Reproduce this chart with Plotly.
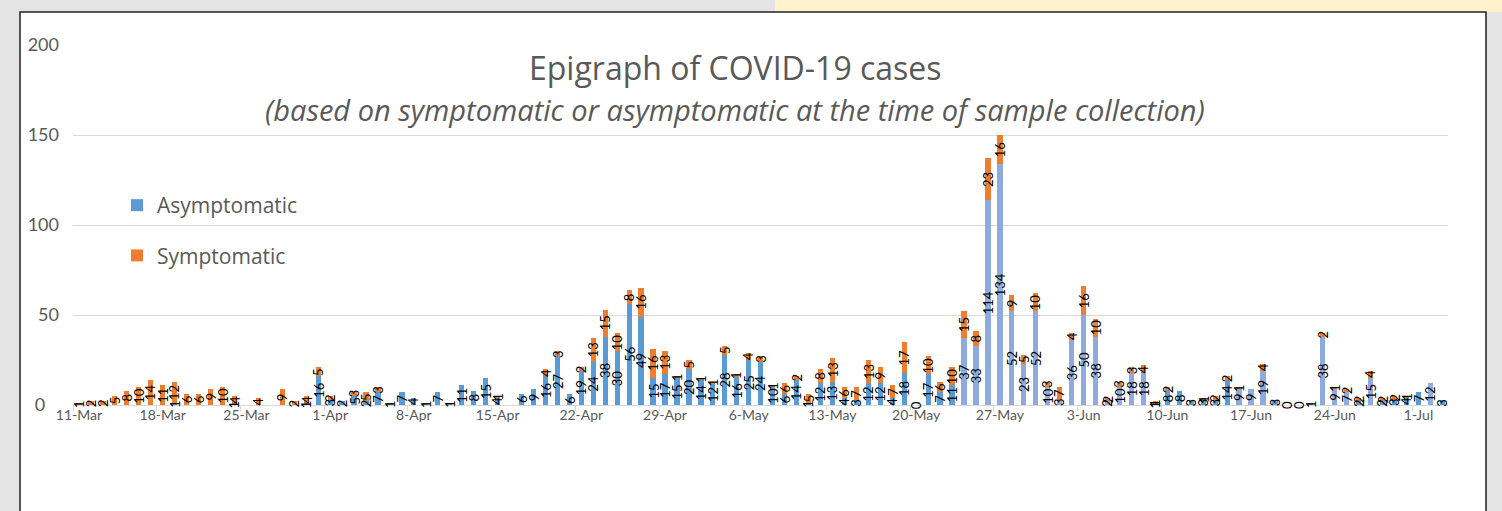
import pandas as pd
import plotly.graph_objects as go

# ---------------- data ----------------
start_date = "2020-03-11"
n_days = 115
asymptomatic = [
    None, None, None, None, None, None, None, None, 1, None,      # 11-Mar .. 20-Mar
    None, None, None, 1, None, None, None, None, None, 1,         # 21-Mar .. 30-Mar
    16, 3, 2, 5, 2, 7, 1, 7, 4, 1,                                # 31-Mar .. 9-Apr
    7, 1, 11, 8, 15, 4, None, 6, 9, 16,                           # 10-Apr .. 19-Apr
    27, 6, 19, 24, 38, 30, 56, 49, 15, 17,                        # 20-Apr .. 29-Apr
    15, 20, 14, 12, 28, 16, 25, 24, 10, 6,                        # 30-Apr .. 9-May
    14, 1, 12, 13, 4, 3, 12, 12, 4, 18,                           # 10-May .. 19-May
    0, 17, 7, 11, 37, 33, 114, 134, 52, 23,                       # 20-May .. 29-May
    52, 10, 3, 36, 50, 38, 2, 10, 18, 18,                         # 30-May .. 8-Jun
    1, 8, 8, 3, 3, 3, 14, 9, 9, 19,                               # 9-Jun .. 18-Jun
    3, 0, 0, 1, 38, 9, 7, 2, 15, 2,                               # 19-Jun .. 28-Jun
    3, 4, 7, 12, 3,                                               # 29-Jun .. 3-Jul
]
symptomatic = [
    1, 2, 2, 5, 8, 10, 14, 11, 12, 6,
    6, 9, 10, 4, None, 4, None, 9, 2, 4,
    5, 2, None, 3, 5, 3, None, None, None, None,
    None, None, None, None, None, 1, None, None, None, 4,
    3, None, 2, 13, 15, 10, 8, 16, 16, 13,
    1, 5, 1, 1, 5, 1, 4, 3, 1, 6,
    2, 5, 8, 13, 6, 7, 13, 9, 7, 17,
    None, 10, 6, 10, 15, 8, 23, 16, 9, 5,
    10, 3, 7, 4, 16, 10, 2, 3, 3, 4,
    1, 2, None, None, 1, 2, 2, 1, None, 4,
    None, None, None, None, 2, 1, 2, 2, 4, 2,
    2, 1, None, None, None,
]
tick_labels = ["11-Mar", "18-Mar", "25-Mar", "1-Apr", "8-Apr", "15-Apr", "22-Apr",
               "29-Apr", "6-May", "13-May", "20-May", "27-May", "3-Jun", "10-Jun",
               "17-Jun", "24-Jun", "1-Jul"]
y_tick_values = [0, 50, 100, 150, 200]
y_tick_labels = ["0\u00a0\u00a0\u00a0", "50", "100", "150", "200"]
light_blue_days = [74, 75, 76, 77, 78, 79, 80, 81, 82, 83, 84, 85, 86, 87, 88, 89,
                   97, 98, 99, 104, 105, 106, 108, 113]

# ---------------- styling ----------------
BLUE = "#5B9BD5"
LIGHT_BLUE = "#8FAADC"
ORANGE = "#ED7D31"
GREY_TXT = "#595959"
FONT = "Lato"
FONT2 = "Open Sans"

dates = pd.date_range(start_date, periods=n_days)
idx = list(range(n_days))
asym_y = [v if v is not None else 0 for v in asymptomatic]
sym_y = [v if v is not None else 0 for v in symptomatic]
asym_colors = [LIGHT_BLUE if i in light_blue_days else BLUE for i in idx]

fig = go.Figure()
fig.add_trace(go.Bar(x=idx, y=asym_y, name="Asymptomatic", marker_color=asym_colors,
                     marker_line_width=0, legendgroup="a",
                     customdata=[d.strftime("%d-%b") for d in dates]))
fig.add_trace(go.Bar(x=idx, y=sym_y, name="Symptomatic", marker_color=ORANGE,
                     marker_line_width=0, legendgroup="s"))

# data labels (centered in each segment, rotated)
annotations = []
for i in idx:
    a = asymptomatic[i]
    s = symptomatic[i]
    if a is not None:
        annotations.append(dict(x=i, y=a / 2, xref="x", yref="y", text=str(a),
                                showarrow=False, textangle=-90,
                                font=dict(family=FONT, size=13, color="#000000")))
    if s is not None:
        base = a if a is not None else 0
        annotations.append(dict(x=i, y=base + s / 2, xref="x", yref="y", text=str(s),
                                showarrow=False, textangle=-90,
                                font=dict(family=FONT, size=13, color="#000000")))

# pixel helpers for layout decorations
L, R, T, B = 73, 1448, 45, 405
def px(xp):
    return (xp - L) / (R - L)
def py(yp):
    return (B - yp) / (B - T)

annotations.append(dict(xref="paper", yref="paper", x=px(735), y=py(67), xanchor="center",
                        yanchor="middle", text="Epigraph of COVID-19 cases", showarrow=False,
                        font=dict(family=FONT2, size=32, color=GREY_TXT)))
annotations.append(dict(xref="paper", yref="paper", x=px(735), y=py(109), xanchor="center",
                        yanchor="middle",
                        text="<i>(based on symptomatic or asymptomatic at the time of sample collection)</i>",
                        showarrow=False, font=dict(family=FONT2, size=29, color=GREY_TXT)))

shapes = [
    dict(type="rect", xref="paper", yref="paper", x0=px(0), x1=px(1502), y0=py(511), y1=py(0),
         fillcolor="#E4E4E4", line_width=0, layer="below"),
    dict(type="rect", xref="paper", yref="paper", x0=px(775), x1=px(1502), y0=py(12), y1=py(0),
         fillcolor="#FFF2CC", line_width=0, layer="below"),
    dict(type="rect", xref="paper", yref="paper", x0=px(20), x1=px(1486), y0=py(520), y1=py(12),
         fillcolor="#FFFFFF", line=dict(color="#202020", width=1.5), layer="below"),
]

tickvals = [i * 7 for i in range(len(tick_labels))]

fig.update_layout(
    width=1502, height=511,
    margin=dict(l=L, r=1502 - R, t=T, b=511 - B, pad=0),
    paper_bgcolor="#FFFFFF", plot_bgcolor="rgba(0,0,0,0)",
    barmode="stack", bargap=0.56,
    font=dict(family=FONT, color=GREY_TXT),
    showlegend=True,
    legend=dict(x=px(117), y=py(185), xanchor="left", yanchor="top",
                bgcolor="rgba(0,0,0,0)", font=dict(family=FONT2, size=21, color=GREY_TXT),
                traceorder="grouped", tracegroupgap=20, itemwidth=30),
    annotations=annotations,
    shapes=shapes,
    xaxis=dict(range=[-0.5, -0.5 + (R - L) / 11.96], tickmode="array", tickvals=tickvals,
               ticktext=tick_labels, ticks="", showgrid=False, zeroline=False,
               showline=True, linecolor="#D9D9D9", linewidth=1, ticklabelstandoff=-3,
               tickfont=dict(family=FONT, size=14, color=GREY_TXT),
               minor=dict(tickmode="array", tickvals=[v - 0.5 for v in tickvals],
                          ticks="outside", ticklen=5, tickcolor="#D9D9D9", showgrid=False)),
    yaxis=dict(range=[0, 200], tickmode="array", tickvals=y_tick_values, ticktext=y_tick_labels,
               showgrid=True, gridcolor="#D9D9D9", gridwidth=1, zeroline=False,
               showline=False, ticks="", ticklabelstandoff=13,
               tickfont=dict(family=FONT, size=18, color=GREY_TXT)),
)

fig.write_html("out.html", post_script="document.body.style.margin='0px';",
               config={"displayModeBar": False})
